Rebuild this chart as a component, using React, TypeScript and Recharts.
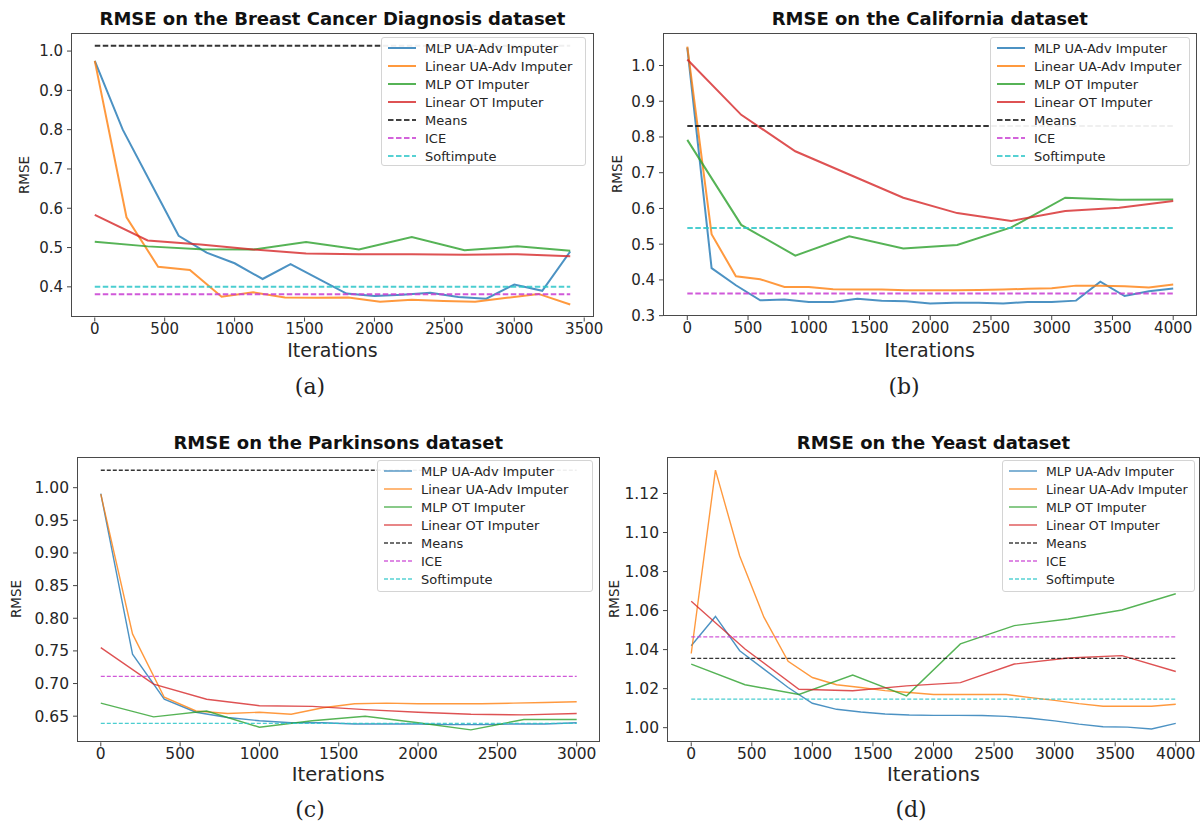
import React from 'react';
import { LineChart, Line, XAxis, YAxis } from 'recharts';

const seriesNames = [
  'MLP UA-Adv Imputer',
  'Linear UA-Adv Imputer',
  'MLP OT Imputer',
  'Linear OT Imputer',
  'Means',
  'ICE',
  'Softimpute',
];
const seriesColors = ['#1f77b4', '#ff7f0e', '#2ca02c', '#d62728', '#111111', '#c83cd2', '#2cc6c8'];

// (a) Breast Cancer Diagnosis
const bcIters20 = [0, 200, 400, 600, 800, 1000, 1200, 1400, 1600, 1800, 2000, 2200, 2400, 2600, 2800, 3000, 3200, 3400];
const bcIters16 = [0, 227, 453, 680, 907, 1133, 1360, 1587, 1813, 2040, 2267, 2493, 2720, 2947, 3173, 3400];
const bcIters10 = [0, 378, 756, 1133, 1511, 1889, 2267, 2644, 3022, 3400];
const bcMlpUa = [0.975, 0.8, 0.665, 0.53, 0.487, 0.46, 0.42, 0.458, 0.42, 0.383, 0.377, 0.38, 0.385, 0.374, 0.37, 0.406, 0.39, 0.49];
const bcLinUa = [0.975, 0.577, 0.451, 0.443, 0.375, 0.386, 0.373, 0.372, 0.373, 0.362, 0.367, 0.364, 0.362, 0.372, 0.382, 0.355];
const bcMlpOt = [0.515, 0.503, 0.496, 0.495, 0.514, 0.495, 0.527, 0.493, 0.503, 0.492];
const bcLinOt = [0.583, 0.518, 0.508, 0.495, 0.485, 0.483, 0.483, 0.482, 0.483, 0.478];
const bcBaselines = [1.0135, 0.381, 0.4];

// (b) California
const caIters20 = [0, 200, 400, 600, 800, 1000, 1200, 1400, 1600, 1800, 2000, 2200, 2400, 2600, 2800, 3000, 3200, 3400, 3600, 3800, 4000];
const caIters10 = [0, 444, 889, 1333, 1778, 2222, 2667, 3111, 3556, 4000];
const caMlpUa = [1.05, 0.433, 0.385, 0.343, 0.345, 0.338, 0.338, 0.347, 0.342, 0.34, 0.334, 0.336, 0.336, 0.334, 0.338, 0.338, 0.342, 0.395, 0.355, 0.368, 0.376];
const caLinUa = [1.053, 0.528, 0.41, 0.402, 0.38, 0.38, 0.374, 0.373, 0.373, 0.371, 0.371, 0.371, 0.372, 0.373, 0.375, 0.377, 0.384, 0.384, 0.382, 0.379, 0.387];
const caMlpOt = [0.792, 0.554, 0.468, 0.522, 0.488, 0.498, 0.547, 0.63, 0.624, 0.625];
const caLinOt = [1.017, 0.862, 0.76, 0.695, 0.63, 0.587, 0.565, 0.593, 0.602, 0.621];
const caBaselines = [0.831, 0.362, 0.545];

// (c) Parkinsons
const pkIters20 = [0, 200, 400, 600, 800, 1000, 1200, 1400, 1600, 1800, 2000, 2200, 2400, 2600, 2800, 3000];
const pkIters10 = [0, 333, 667, 1000, 1333, 1667, 2000, 2333, 2667, 3000];
const pkMlpUa = [0.991, 0.745, 0.676, 0.656, 0.648, 0.643, 0.64, 0.64, 0.638, 0.638, 0.638, 0.637, 0.637, 0.638, 0.638, 0.64];
const pkLinUa = [0.99, 0.776, 0.679, 0.658, 0.654, 0.656, 0.653, 0.663, 0.669, 0.67, 0.669, 0.669, 0.669, 0.67, 0.671, 0.672];
const pkMlpOt = [0.67, 0.649, 0.658, 0.633, 0.643, 0.65, 0.64, 0.629, 0.645, 0.645];
const pkLinOt = [0.755, 0.699, 0.676, 0.666, 0.665, 0.66, 0.656, 0.653, 0.652, 0.654];
const pkBaselines = [1.0266, 0.711, 0.639];

// (d) Yeast
const yeIters20 = [0, 200, 400, 600, 800, 1000, 1200, 1400, 1600, 1800, 2000, 2200, 2400, 2600, 2800, 3000, 3200, 3400, 3600, 3800, 4000];
const yeIters10 = [0, 444, 889, 1333, 1778, 2222, 2667, 3111, 3556, 4000];
const yeMlpUa = [1.042, 1.057, 1.0394, 1.03, 1.0206, 1.0125, 1.0094, 1.008, 1.007, 1.0065, 1.0063, 1.0063, 1.0062, 1.0058, 1.0048, 1.0035, 1.0018, 1.0005, 1.0003, 0.9993, 1.0022];
const yeLinUa = [1.038, 1.132, 1.088, 1.0566, 1.034, 1.0257, 1.022, 1.0206, 1.019, 1.018, 1.017, 1.017, 1.017, 1.017, 1.0154, 1.014, 1.0123, 1.011, 1.011, 1.011, 1.012];
const yeMlpOt = [1.0326, 1.022, 1.017, 1.027, 1.0163, 1.0429, 1.0523, 1.0557, 1.0603, 1.0686];
const yeLinOt = [1.0648, 1.0403, 1.0197, 1.0189, 1.0214, 1.0231, 1.0326, 1.0357, 1.0369, 1.0288];
const yeBaselines = [1.0355, 1.0465, 1.0146];

const pts = (xs: number[], ys: number[]) => xs.map((x, i) => ({ x, y: ys[i] }));
const flat = (xs: number[], v: number) => [{ x: xs[0], y: v }, { x: xs[xs.length - 1], y: v }];

const buildSeries = (
  curves: [number[], number[]][],
  baselines: number[],
  fullIters: number[]
) => [
  ...curves.map(([xs, ys], i) => ({ name: seriesNames[i], color: seriesColors[i], dashed: false, data: pts(xs, ys) })),
  ...baselines.map((v, i) => ({ name: seriesNames[4 + i], color: seriesColors[4 + i], dashed: true, data: flat(fullIters, v) })),
];

const FONT = '"DejaVu Sans", sans-serif';

const panels = [
  {
    title: 'RMSE on the Breast Cancer Diagnosis dataset',
    caption: '(a)',
    box: { left: 71, top: 32.5, right: 594, bottom: 317 },
    xDomain: [-170, 3570],
    xTicks: [0, 500, 1000, 1500, 2000, 2500, 3000, 3500],
    yDomain: [0.322, 1.046],
    yTicks: [0.4, 0.5, 0.6, 0.7, 0.8, 0.9, 1.0],
    digits: 1,
    series: buildSeries([[bcIters20, bcMlpUa], [bcIters16, bcLinUa], [bcIters10, bcMlpOt], [bcIters10, bcLinOt]], bcBaselines, bcIters20),
    legend: { left: 381, top: 37, width: 205, height: 129 },
    ylabelX: 24, titleY: 19, xlabelY: 350, captionX: 310, captionY: 387,
    tickFont: 15, xlabelFont: 19, legendFont: 13, lw: 2, dash: '5.5 2.5',
  },
  {
    title: 'RMSE on the California dataset',
    caption: '(b)',
    box: { left: 662.5, top: 32.5, right: 1197, bottom: 315.5 },
    xDomain: [-200, 4200],
    xTicks: [0, 500, 1000, 1500, 2000, 2500, 3000, 3500, 4000],
    yDomain: [0.299, 1.091],
    yTicks: [0.3, 0.4, 0.5, 0.6, 0.7, 0.8, 0.9, 1.0],
    digits: 1,
    series: buildSeries([[caIters20, caMlpUa], [caIters20, caLinUa], [caIters10, caMlpOt], [caIters10, caLinOt]], caBaselines, caIters20),
    legend: { left: 990, top: 37, width: 200, height: 129 },
    ylabelX: 617, titleY: 19, xlabelY: 350, captionX: 904, captionY: 387,
    tickFont: 15, xlabelFont: 19, legendFont: 13, lw: 2, dash: '5.5 2.5',
  },
  {
    title: 'RMSE on the Parkinsons dataset',
    caption: '(c)',
    box: { left: 76.5, top: 456.7, right: 600, bottom: 742 },
    xDomain: [-150, 3150],
    xTicks: [0, 500, 1000, 1500, 2000, 2500, 3000],
    yDomain: [0.61, 1.047],
    yTicks: [0.65, 0.7, 0.75, 0.8, 0.85, 0.9, 0.95, 1.0],
    digits: 2,
    series: buildSeries([[pkIters20, pkMlpUa], [pkIters20, pkLinUa], [pkIters10, pkMlpOt], [pkIters10, pkLinOt]], pkBaselines, pkIters20),
    legend: { left: 377, top: 460, width: 216, height: 132 },
    ylabelX: 16, titleY: 443, xlabelY: 775, captionX: 310, captionY: 810,
    tickFont: 15.5, xlabelFont: 19.5, legendFont: 13, lw: 1.4, dash: '4 2',
  },
  {
    title: 'RMSE on the Yeast dataset',
    caption: '(d)',
    box: { left: 667, top: 456.7, right: 1200, bottom: 742 },
    xDomain: [-200, 4200],
    xTicks: [0, 500, 1000, 1500, 2000, 2500, 3000, 3500, 4000],
    yDomain: [0.9925, 1.1387],
    yTicks: [1.0, 1.02, 1.04, 1.06, 1.08, 1.1, 1.12],
    digits: 2,
    series: buildSeries([[yeIters20, yeMlpUa], [yeIters20, yeLinUa], [yeIters10, yeMlpOt], [yeIters10, yeLinOt]], yeBaselines, yeIters20),
    legend: { left: 1002, top: 460, width: 193, height: 132 },
    ylabelX: 614, titleY: 443, xlabelY: 775, captionX: 911, captionY: 810,
    tickFont: 15.5, xlabelFont: 19.5, legendFont: 12.5, lw: 1.4, dash: '4 2',
  },
];

const YW = 60;
const XH = 30;
const MT = 10;
const MR = 26;

function Panel({ p }: { p: (typeof panels)[number] }) {
  const bw = p.box.right - p.box.left;
  const bh = p.box.bottom - p.box.top;
  const cx = (p.box.left + p.box.right) / 2;
  const cy = (p.box.top + p.box.bottom) / 2;
  return (
    <>
      <div style={{ position: 'absolute', left: p.box.left - YW, top: p.box.top - MT }}>
        <LineChart
          width={bw + YW + MR}
          height={bh + MT + XH}
          margin={{ top: MT, right: MR, bottom: 0, left: 0 }}
        >
          <XAxis
            type="number"
            dataKey="x"
            domain={p.xDomain}
            ticks={p.xTicks}
            allowDataOverflow
            interval={0}
            height={XH}
            axisLine={false}
            tickSize={4}
            tickMargin={2}
            stroke="#444"
            tick={{ fill: '#262626', fontSize: p.tickFont, fontFamily: FONT }}
          />
          <YAxis
            type="number"
            domain={p.yDomain}
            ticks={p.yTicks}
            allowDataOverflow
            interval={0}
            width={YW}
            axisLine={false}
            tickSize={4}
            tickMargin={4}
            stroke="#444"
            tickFormatter={(v: number) => v.toFixed(p.digits)}
            tick={{ fill: '#262626', fontSize: p.tickFont, fontFamily: FONT }}
          />
          {p.series.map((s) => (
            <Line
              key={s.name}
              name={s.name}
              data={s.data}
              dataKey="y"
              type="linear"
              stroke={s.color}
              strokeOpacity={s.dashed ? 0.85 : 0.8}
              strokeWidth={p.lw}
              strokeDasharray={s.dashed ? p.dash : undefined}
              dot={false}
              activeDot={false}
              isAnimationActive={false}
            />
          ))}
        </LineChart>
      </div>
      <div
        style={{
          position: 'absolute', left: p.box.left, top: p.box.top, width: bw, height: bh,
          border: '1px solid #4a4a4a', boxSizing: 'border-box', pointerEvents: 'none',
        }}
      />
      <div
        style={{
          position: 'absolute', left: p.legend.left, top: p.legend.top, width: p.legend.width,
          height: p.legend.height, background: 'rgba(255,255,255,0.92)', border: '1px solid #d4d4d4',
          borderRadius: 3, boxSizing: 'border-box', paddingTop: 1,
        }}
      >
        {p.series.map((s) => (
          <div key={s.name} style={{ display: 'flex', alignItems: 'center', height: 18 }}>
            <svg width={38} height={10} style={{ marginLeft: 5, flex: 'none' }}>
              <line
                x1={1} y1={5} x2={29} y2={5}
                stroke={s.color} strokeOpacity={0.8} strokeWidth={p.lw}
                strokeDasharray={s.dashed ? p.dash : undefined}
              />
            </svg>
            <span style={{ fontFamily: FONT, fontSize: p.legendFont, color: '#262626', whiteSpace: 'nowrap' }}>{s.name}</span>
          </div>
        ))}
      </div>
      <div
        style={{
          position: 'absolute', left: cx - 300, width: 600, top: p.titleY - 11, textAlign: 'center',
          fontFamily: FONT, fontWeight: 'bold', fontSize: 18, color: '#111', lineHeight: '22px',
        }}
      >
        {p.title}
      </div>
      <div
        style={{
          position: 'absolute', left: cx - 100, width: 200, top: p.xlabelY - 10, textAlign: 'center',
          fontFamily: FONT, fontSize: p.xlabelFont, color: '#262626', lineHeight: '20px',
        }}
      >
        Iterations
      </div>
      <div
        style={{
          position: 'absolute', left: p.ylabelX - 40, width: 80, top: cy - 9, textAlign: 'center',
          fontFamily: FONT, fontSize: 13.5, color: '#262626', lineHeight: '18px', transform: 'rotate(-90deg)',
        }}
      >
        RMSE
      </div>
      <div
        style={{
          position: 'absolute', left: p.captionX - 40, width: 80, top: p.captionY - 14, textAlign: 'center',
          fontFamily: '"DejaVu Serif", serif', fontSize: 22, color: '#222', lineHeight: '28px',
        }}
      >
        {p.caption}
      </div>
    </>
  );
}

export default function App() {
  return (
    <div style={{ position: 'fixed', left: 0, top: 0, width: 1203, height: 827, background: '#fff', overflow: 'hidden' }}>
      {panels.map((p) => (
        <Panel key={p.caption} p={p} />
      ))}
    </div>
  );
}
